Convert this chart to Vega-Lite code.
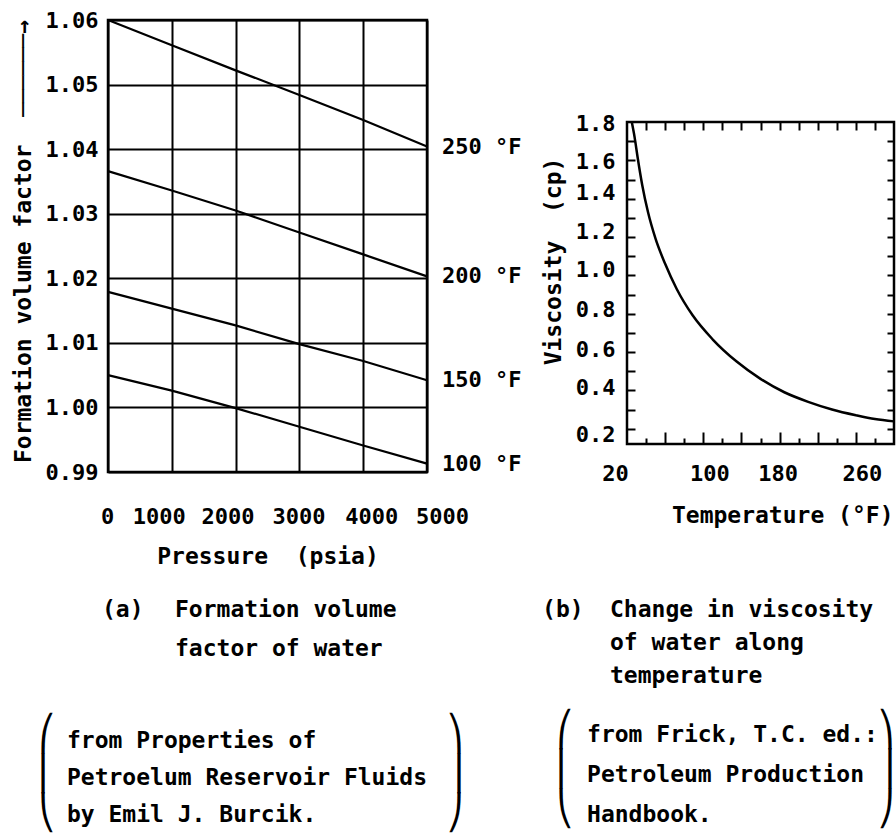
{
  "$schema": "https://vega.github.io/schema/vega-lite/v6.json",
  "background": "white",
  "padding": {"left": 10, "top": 7, "right": 0, "bottom": 0},
  "datasets": {
    "fvf": [
      {"temp": "250 °F", "pressure": 0, "bw": 1.0600},
      {"temp": "250 °F", "pressure": 1000, "bw": 1.0561},
      {"temp": "250 °F", "pressure": 2000, "bw": 1.0522},
      {"temp": "250 °F", "pressure": 3000, "bw": 1.0484},
      {"temp": "250 °F", "pressure": 4000, "bw": 1.0445},
      {"temp": "250 °F", "pressure": 5000, "bw": 1.0404},
      {"temp": "200 °F", "pressure": 0, "bw": 1.0366},
      {"temp": "200 °F", "pressure": 1000, "bw": 1.0336},
      {"temp": "200 °F", "pressure": 2000, "bw": 1.0305},
      {"temp": "200 °F", "pressure": 3000, "bw": 1.0271},
      {"temp": "200 °F", "pressure": 4000, "bw": 1.0237},
      {"temp": "200 °F", "pressure": 5000, "bw": 1.0203},
      {"temp": "150 °F", "pressure": 0, "bw": 1.0179},
      {"temp": "150 °F", "pressure": 1000, "bw": 1.0153},
      {"temp": "150 °F", "pressure": 2000, "bw": 1.0127},
      {"temp": "150 °F", "pressure": 3000, "bw": 1.0098},
      {"temp": "150 °F", "pressure": 4000, "bw": 1.0072},
      {"temp": "150 °F", "pressure": 5000, "bw": 1.0042},
      {"temp": "100 °F", "pressure": 0, "bw": 1.0050},
      {"temp": "100 °F", "pressure": 1000, "bw": 1.0026},
      {"temp": "100 °F", "pressure": 2000, "bw": 0.9999},
      {"temp": "100 °F", "pressure": 3000, "bw": 0.9970},
      {"temp": "100 °F", "pressure": 4000, "bw": 0.9941},
      {"temp": "100 °F", "pressure": 5000, "bw": 0.9913}
    ],
    "visc": [
      {"t": 25, "mu": 1.80},
      {"t": 28, "mu": 1.72},
      {"t": 31, "mu": 1.62},
      {"t": 36, "mu": 1.47},
      {"t": 42, "mu": 1.33},
      {"t": 50, "mu": 1.19},
      {"t": 60, "mu": 1.06},
      {"t": 72, "mu": 0.93},
      {"t": 89, "mu": 0.79},
      {"t": 110, "mu": 0.665},
      {"t": 135, "mu": 0.55},
      {"t": 160, "mu": 0.46},
      {"t": 185, "mu": 0.39},
      {"t": 210, "mu": 0.34},
      {"t": 235, "mu": 0.30},
      {"t": 260, "mu": 0.27},
      {"t": 280, "mu": 0.25},
      {"t": 300, "mu": 0.238}
    ]
  },
  "config": {
    "font": "DejaVu Sans Mono",
    "view": {"stroke": "black", "strokeWidth": 2.5},
    "axis": {
      "domain": false,
      "labelFont": "DejaVu Sans Mono",
      "labelFontSize": 22,
      "labelFontWeight": "bold",
      "labelColor": "black",
      "labelOverlap": false,
      "labelFlush": false,
      "titleFont": "DejaVu Sans Mono",
      "titleFontSize": 23,
      "titleFontWeight": "bold",
      "titleColor": "black",
      "tickColor": "black",
      "gridColor": "black",
      "gridOpacity": 1
    },
    "text": {"font": "DejaVu Sans Mono", "fontSize": 23, "fontWeight": "bold", "color": "black"}
  },
  "spacing": 200,
  "bounds": "flush",
  "hconcat": [
    {
      "width": 319,
      "height": 452,
      "resolve": {"axis": {"x": "independent", "y": "independent"}},
      "layer": [
        {
          "data": {"name": "fvf"},
          "mark": {"type": "line", "color": "black", "strokeWidth": 2.2},
          "encoding": {
            "x": {
              "field": "pressure", "type": "quantitative",
              "scale": {"domain": [0, 5000], "nice": false},
              "axis": {
                "orient": "bottom",
                "values": [0, 1000, 2000, 3000, 4000, 5000],
                "format": "d",
                "grid": true, "gridWidth": 2,
                "ticks": false, "tickSize": 0,
                "labelPadding": 34,
                "labelOffset": {"condition": [
                  {"test": "datum.value == 1000", "value": -13},
                  {"test": "datum.value == 2000", "value": -8},
                  {"test": "datum.value == 4000", "value": 8},
                  {"test": "datum.value == 5000", "value": 15}
                ], "value": -1},
                "title": "Pressure\u00a0 (psia)",
                "titleY": 84,
                "titleBaseline": "middle"
              }
            },
            "y": {
              "field": "bw", "type": "quantitative",
              "scale": {"domain": [0.99, 1.06], "nice": false, "zero": false},
              "axis": {
                "orient": "left",
                "values": [0.99, 1.0, 1.01, 1.02, 1.03, 1.04, 1.05, 1.06],
                "format": ".2f",
                "grid": true, "gridWidth": 2,
                "ticks": false, "tickSize": 0,
                "labelPadding": 10,
                "title": "Formation volume factor\u00a0 ──────→",
                "titleX": -85,
                "titleY": 221,
                "titleAngle": 270,
                "titleAlign": "center",
                "titleBaseline": "middle"
              }
            },
            "detail": {"field": "temp"}
          }
        },
        {
          "data": {"name": "fvf"},
          "transform": [{"filter": "datum.pressure == 5000"}],
          "mark": {"type": "text", "align": "left", "baseline": "middle", "dx": 15, "fontSize": 22},
          "encoding": {
            "x": {"field": "pressure", "type": "quantitative", "axis": null},
            "y": {"field": "bw", "type": "quantitative", "axis": null},
            "text": {"field": "temp"}
          }
        },
        {
          "data": {"values": [{}]},
          "mark": {"type": "text", "align": "left", "baseline": "alphabetic", "text": "(a)"},
          "encoding": {
            "x": {"datum": -94, "type": "quantitative", "axis": null},
            "y": {"datum": 0.96747, "type": "quantitative", "axis": null}
          }
        },
        {
          "data": {"values": [{}]},
          "mark": {"type": "text", "align": "left", "baseline": "alphabetic", "lineHeight": 39, "text": ["Formation volume", "factor of water"]},
          "encoding": {
            "x": {"datum": 1050, "type": "quantitative", "axis": null},
            "y": {"datum": 0.96747, "type": "quantitative", "axis": null}
          }
        },
        {
          "data": {"values": [{}]},
          "mark": {"type": "text", "align": "left", "baseline": "alphabetic", "lineHeight": 37, "text": ["from Properties of", "Petroelum Reservoir Fluids", "by Emil J. Burcik."]},
          "encoding": {
            "x": {"datum": -643, "type": "quantitative", "axis": null},
            "y": {"datum": 0.94733, "type": "quantitative", "axis": null}
          }
        },
        {
          "data": {"values": [{}]},
          "mark": {"type": "text", "font": "DejaVu Sans", "fontWeight": "normal", "fontSize": 34, "align": "center", "baseline": "alphabetic", "lineHeight": 39.6, "text": ["⎛", "⎜", "⎝"]},
          "encoding": {
            "x": {"datum": -956, "type": "quantitative", "axis": null},
            "y": {"datum": 0.94772, "type": "quantitative", "axis": null}
          }
        },
        {
          "data": {"values": [{}]},
          "mark": {"type": "text", "font": "DejaVu Sans", "fontWeight": "normal", "fontSize": 34, "align": "center", "baseline": "alphabetic", "lineHeight": 39.6, "text": ["⎞", "⎟", "⎠"]},
          "encoding": {
            "x": {"datum": 5439, "type": "quantitative", "axis": null},
            "y": {"datum": 0.94772, "type": "quantitative", "axis": null}
          }
        }
      ]
    },
    {
      "spacing": 0,
      "bounds": "flush",
      "vconcat": [
        {
          "width": 267,
          "height": 101.5,
          "view": {"stroke": null},
          "data": {"values": []},
          "mark": "point"
        },
        {
          "width": 267,
          "height": 322,
          "resolve": {"axis": {"x": "independent", "y": "independent"}},
          "layer": [
            {
              "data": {"name": "visc"},
              "mark": {"type": "line", "color": "black", "strokeWidth": 2.5, "interpolate": "monotone"},
              "encoding": {
                "x": {
                  "field": "t", "type": "quantitative",
                  "scale": {"domain": [20, 300], "nice": false, "zero": false},
                  "axis": {
                    "orient": "bottom",
                    "values": [20, 100, 180, 260],
                    "format": "d",
                    "grid": false,
                    "ticks": false, "tickSize": 0,
                    "labelPadding": 19,
                    "labelOffset": {"condition": [
                      {"test": "datum.value == 20", "value": -12},
                      {"test": "datum.value == 100", "value": 6},
                      {"test": "datum.value == 180", "value": -2},
                      {"test": "datum.value == 260", "value": 6}
                    ], "value": 0},
                    "title": "Temperature (°F)",
                    "titleX": 266,
                    "titleY": 71,
                    "titleAlign": "right",
                    "titleBaseline": "middle"
                  }
                },
                "y": {
                  "field": "mu", "type": "quantitative",
                  "scale": {"domain": [0.12, 1.8], "nice": false, "zero": false},
                  "axis": {
                    "orient": "left",
                    "values": [0.2, 0.4, 0.6, 0.8, 1.0, 1.2, 1.4, 1.6, 1.8],
                    "format": ".1f",
                    "grid": false,
                    "ticks": false, "tickSize": 0,
                    "labelPadding": 12,
                    "labelOffset": {"condition": [
                      {"test": "datum.value == 1.4 || datum.value == 1.2 || datum.value == 1.0", "value": -6},
                      {"test": "datum.value == 0.8", "value": -4},
                      {"test": "datum.value == 0.6 || datum.value == 0.4", "value": -3},
                      {"test": "datum.value == 0.2", "value": 6}
                    ], "value": 1},
                    "title": "Viscosity\u00a0 (cp)",
                    "titleX": -74,
                    "titleY": 139,
                    "titleAngle": 270,
                    "titleAlign": "center",
                    "titleBaseline": "middle"
                  }
                }
              }
            },
            {
              "data": {"name": "visc"},
              "mark": {"type": "line", "strokeOpacity": 0},
              "encoding": {
                "x": {
                  "field": "t", "type": "quantitative",
                  "axis": {
                    "orient": "bottom",
                    "values": [40, 60, 80, 100, 120, 140, 160, 180, 200, 220, 240, 260, 280],
                    "labels": false, "grid": false, "title": null,
                    "tickWidth": 2,
                    "tickSize": {"condition": {"test": "(datum.value - 20) % 40 == 0", "value": -12}, "value": -6}
                  }
                },
                "y": {
                  "field": "mu", "type": "quantitative",
                  "axis": {
                    "orient": "left",
                    "values": [0.2, 0.3, 0.4, 0.5, 0.6, 0.7, 0.8, 0.9, 1.0, 1.1, 1.2, 1.3, 1.4, 1.5, 1.6, 1.7],
                    "labels": false, "grid": false, "title": null,
                    "tickWidth": 2, "tickSize": -8
                  }
                }
              }
            },
            {
              "data": {"name": "visc"},
              "mark": {"type": "line", "strokeOpacity": 0},
              "encoding": {
                "x": {
                  "field": "t", "type": "quantitative",
                  "axis": {
                    "orient": "top",
                    "values": [40, 60, 80, 100, 120, 140, 160, 180, 200, 220, 240, 260, 280],
                    "labels": false, "grid": false, "title": null,
                    "tickWidth": 2, "tickSize": -8
                  }
                },
                "y": {
                  "field": "mu", "type": "quantitative",
                  "axis": {
                    "orient": "right",
                    "values": [0.2, 0.3, 0.4, 0.5, 0.6, 0.7, 0.8, 0.9, 1.0, 1.1, 1.2, 1.3, 1.4, 1.5, 1.6, 1.7],
                    "labels": false, "grid": false, "title": null,
                    "tickWidth": 2, "tickSize": -7
                  }
                }
              }
            },
            {
              "data": {"values": [{}]},
              "mark": {"type": "text", "align": "left", "baseline": "alphabetic", "text": "(b)"},
              "encoding": {
                "x": {"datum": -69.1, "type": "quantitative", "axis": null},
                "y": {"datum": -0.78261, "type": "quantitative", "axis": null}
              }
            },
            {
              "data": {"values": [{}]},
              "mark": {"type": "text", "align": "left", "baseline": "alphabetic", "lineHeight": 33, "text": ["Change in viscosity", "of water along", "temperature"]},
              "encoding": {
                "x": {"datum": 2.2, "type": "quantitative", "axis": null},
                "y": {"datum": -0.78261, "type": "quantitative", "axis": null}
              }
            },
            {
              "data": {"values": [{}]},
              "mark": {"type": "text", "align": "left", "baseline": "alphabetic", "lineHeight": 40, "text": ["from Frick, T.C. ed.:", "Petroleum Production", "Handbook."]},
              "encoding": {
                "x": {"datum": -21.9, "type": "quantitative", "axis": null},
                "y": {"datum": -1.43478, "type": "quantitative", "axis": null}
              }
            },
            {
              "data": {"values": [{}]},
              "mark": {"type": "text", "font": "DejaVu Sans", "fontWeight": "normal", "fontSize": 34, "align": "center", "baseline": "alphabetic", "lineHeight": 39.6, "text": ["⎛", "⎜", "⎝"]},
              "encoding": {
                "x": {"datum": -45, "type": "quantitative", "axis": null},
                "y": {"datum": -1.42696, "type": "quantitative", "axis": null}
              }
            },
            {
              "data": {"values": [{}]},
              "mark": {"type": "text", "font": "DejaVu Sans", "fontWeight": "normal", "fontSize": 34, "align": "center", "baseline": "alphabetic", "lineHeight": 39.6, "text": ["⎞", "⎟", "⎠"]},
              "encoding": {
                "x": {"datum": 291.6, "type": "quantitative", "axis": null},
                "y": {"datum": -1.42696, "type": "quantitative", "axis": null}
              }
            }
          ]
        }
      ]
    }
  ]
}
